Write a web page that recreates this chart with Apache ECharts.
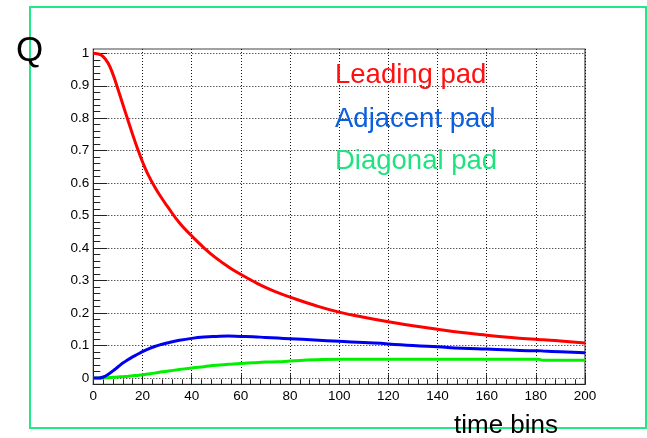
<!DOCTYPE html>
<html>
<head>
<meta charset="utf-8">
<script src="https://cdn.jsdelivr.net/npm/echarts@6/dist/echarts.min.js"></script>
<style>
  html, body { margin: 0; padding: 0; background: #fff; }
  #chart { width: 647px; height: 438px; }
</style>
</head>
<body>
<div id="chart"></div>
<script>
// Charge fraction per pad versus time bin
const timeBins = [0, 2, 4, 6, 8, 10, 12, 14, 16, 18, 20, 22, 25, 28, 30, 35, 40, 45, 50, 55, 60, 65, 70, 75, 80, 90, 100, 110, 120, 130, 140, 150, 160, 170, 180, 181, 183, 190, 200];
const leadingPad = [1.0, 0.998, 0.99, 0.97, 0.935, 0.89, 0.843, 0.796, 0.75, 0.706, 0.666, 0.631, 0.588, 0.552, 0.53, 0.478, 0.438, 0.401, 0.369, 0.342, 0.319, 0.298, 0.279, 0.263, 0.249, 0.224, 0.203, 0.187, 0.173, 0.161, 0.15, 0.14, 0.132, 0.125, 0.119, 0.1185, 0.1175, 0.114, 0.108];
const adjacentPad = [0, 0, 0.003, 0.011, 0.022, 0.034, 0.046, 0.056, 0.065, 0.073, 0.081, 0.088, 0.097, 0.104, 0.108, 0.116, 0.122, 0.126, 0.128, 0.129, 0.128, 0.127, 0.125, 0.123, 0.121, 0.117, 0.113, 0.109, 0.105, 0.1, 0.096, 0.092, 0.089, 0.086, 0.084, 0.084, 0.083, 0.081, 0.078];
const diagonalPad = [0, 0, 0, 0.001, 0.002, 0.003, 0.004, 0.005, 0.007, 0.008, 0.01, 0.012, 0.015, 0.019, 0.021, 0.026, 0.031, 0.035, 0.039, 0.042, 0.045, 0.047, 0.049, 0.05, 0.052, 0.056, 0.058, 0.058, 0.058, 0.058, 0.058, 0.058, 0.058, 0.058, 0.058, 0.058, 0.0545, 0.0545, 0.0545];

const seriesNames = ['Leading pad', 'Adjacent pad', 'Diagonal pad'];
const lineColors = ['#ff0000', '#0000f0', '#00f000'];
const labelColors = ['#ff1010', '#0a5fe0', '#1ee37f'];
const yTitle = 'Q';
const xTitle = 'time bins';

const FONT = '"Liberation Sans", Arial, sans-serif';

const pairs = vals => timeBins.map((t, i) => [t, vals[i]]);

const chart = echarts.init(document.getElementById('chart'), null, { renderer: 'canvas' });

const gridL = 93.3, gridR = 62;

const lineSeries = (idx, vals) => ({
  name: seriesNames[idx], type: 'line', xAxisIndex: 0, yAxisIndex: 0,
  data: pairs(vals), showSymbol: false, smooth: 0.5, clip: false,
  lineStyle: { color: lineColors[idx], width: 3 }
});

chart.setOption({
  animation: false,
  backgroundColor: '#fff',
  grid: [
    // data area: y from 0 to 1
    { left: gridL, right: gridR, top: 53.3, bottom: 60, show: false },
    // full frame
    { left: gridL, right: gridR, top: 49, bottom: 53.7, show: true, borderColor: '#444', borderWidth: 1.2, backgroundColor: 'transparent' }
  ],
  xAxis: [
    {
      gridIndex: 0, type: 'value', min: 0, max: 200, interval: 20,
      show: true, axisLine: { show: false }, axisTick: { show: false }, axisLabel: { show: false },
      splitLine: { show: false }
    },
    {
      gridIndex: 1, type: 'value', min: 0, max: 200, interval: 20,
      axisLine: { show: true, lineStyle: { color: '#222', width: 1 } },
      axisTick: { show: true, inside: true, length: 10, lineStyle: { color: '#222' } },
      minorTick: { show: true, splitNumber: 5, length: 5, lineStyle: { color: '#222' } },
      axisLabel: { show: true, margin: 5, color: '#000', fontSize: 13.5, fontFamily: FONT },
      splitLine: { show: true, lineStyle: { color: '#111', width: 1, type: [1, 2] } }
    }
  ],
  yAxis: [
    {
      gridIndex: 0, type: 'value', min: 0, max: 1, interval: 0.1,
      axisLine: { show: true, lineStyle: { color: '#222', width: 1 } },
      axisTick: { show: true, inside: true, length: 14, lineStyle: { color: '#222' } },
      minorTick: { show: true, splitNumber: 5, length: 7, lineStyle: { color: '#222' } },
      axisLabel: { show: true, margin: 4, color: '#000', fontSize: 13.5, fontFamily: FONT },
      splitLine: { show: true, lineStyle: { color: '#111', width: 1, type: [1, 2] } }
    },
    {
      gridIndex: 1, type: 'value', min: 0, max: 1, show: false
    }
  ],
  graphic: [
    {
      type: 'rect', silent: true, z: 100,
      shape: { x: 30, y: 7, width: 616, height: 421 },
      style: { fill: 'none', stroke: '#22e888', lineWidth: 2 }
    },
    {
      type: 'text', z: 101, style: { x: 16, y: 51, text: yTitle, font: '35px ' + FONT, fill: '#000', verticalAlign: 'middle' }
    },
    {
      type: 'text', z: 101, style: { x: 454, y: 426, text: xTitle, font: '26px ' + FONT, fill: '#000', verticalAlign: 'middle' }
    },
    {
      type: 'text', z: 101, style: { x: 335, y: 75.5, text: seriesNames[0], font: '27.5px ' + FONT, fill: labelColors[0], verticalAlign: 'middle' }
    },
    {
      type: 'text', z: 101, style: { x: 335, y: 119, text: seriesNames[1], font: '27.5px ' + FONT, fill: labelColors[1], verticalAlign: 'middle' }
    },
    {
      type: 'text', z: 101, style: { x: 335, y: 161.5, text: seriesNames[2], font: '27.5px ' + FONT, fill: labelColors[2], verticalAlign: 'middle' }
    }
  ],
  series: [
    lineSeries(2, diagonalPad),
    lineSeries(1, adjacentPad),
    lineSeries(0, leadingPad)
  ]
});
</script>
</body>
</html>
